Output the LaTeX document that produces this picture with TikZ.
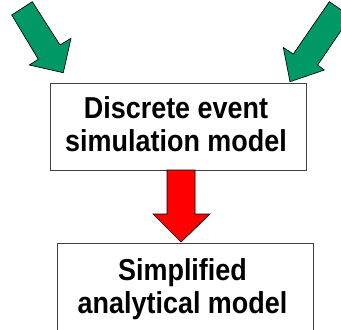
\documentclass[tikz,border=0pt]{standalone}
\usepackage{fontspec}
\setmainfont{Liberation Sans}
\newfontfamily\boxfont[FakeStretch=0.89]{Liberation Sans}
\begin{document}
\begin{tikzpicture}[x=0.75pt,y=-0.75pt,
  modelbox/.style={draw=black!75,line width=0.6pt,fill=white,inner sep=0pt},
  modeltext/.style={align=center,font=\boxfont\fontsize{22.7}{24.5}\selectfont\bfseries,inner sep=0pt},
  greenarrow/.style={draw=black,line width=0.5pt,fill=arrowgreen,line join=miter},
  redarrow/.style={draw=black,line width=0.5pt,fill=red,line join=miter}]
\definecolor{arrowgreen}{RGB}{0,153,102}
\useasboundingbox (0,0) rectangle (341,329);
\clip (0,0) rectangle (341,329);

% model boxes
\node[modelbox,minimum width=192pt,minimum height=65.25pt] (sim) at (178,126.5) {};
\node[modeltext] (simtext) at (176,124.5) {Discrete event\\simulation model};
\node[modelbox,minimum width=192pt,minimum height=90pt] (ana) at (185,303) {};
\node[modeltext] (anatext) at (182.5,289) {Simplified\\analytical model};

% incoming block arrows
\draw[greenarrow] (11.7,15) -- (32.3,1.7) -- (60,45) -- (71,38.3) -- (63.3,72.7)
  -- (29.3,65) -- (38.3,59.3) -- cycle;
\draw[greenarrow] (329.3,1.7) -- (350.7,16.4) -- (317.7,65) -- (324.3,70) -- (290,81.7)
  -- (283.3,47.5) -- (293.3,54) -- cycle;

% block arrow between the two models
\draw[redarrow] (167,170) -- (195,170) -- (195,214) -- (210,214) -- (181,242)
  -- (153,214) -- (167,214) -- cycle;
\end{tikzpicture}
\end{document}
